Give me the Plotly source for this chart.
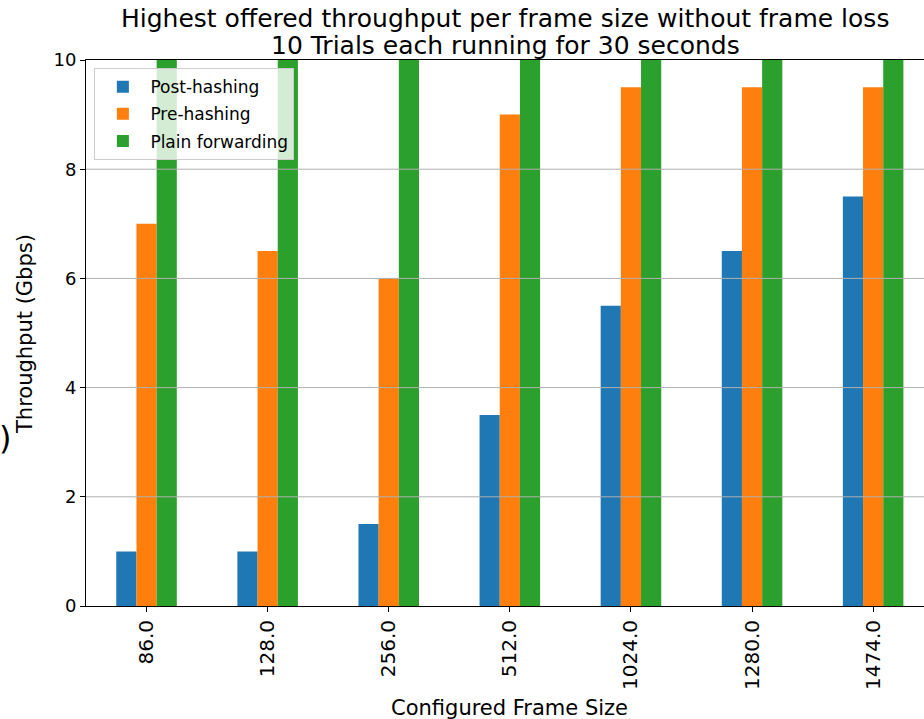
import plotly.graph_objects as go

# Frame sizes tested (bytes) and highest lossless throughput (Gbps)
frame_sizes = ["86.0", "128.0", "256.0", "512.0", "1024.0", "1280.0", "1474.0"]
post_hashing = [1.0, 1.0, 1.5, 3.5, 5.5, 6.5, 7.5]
pre_hashing = [7.0, 6.5, 6.0, 9.0, 9.5, 9.5, 9.5]
plain_forwarding = [10.0, 10.0, 10.0, 10.0, 10.0, 10.0, 10.0]

series = [
    ("Post-hashing", post_hashing, "#1f77b4"),
    ("Pre-hashing", pre_hashing, "#ff7f0e"),
    ("Plain forwarding", plain_forwarding, "#2ca02c"),
]

y_ticks = [0, 2, 4, 6, 8, 10]

title_lines = ["Highest offered throughput per frame size without frame loss",
               "10 Trials each running for 30 seconds"]

FONT = "DejaVu Sans"

fig = go.Figure()
for name, vals, color in series:
    fig.add_trace(go.Bar(
        x=frame_sizes, y=vals, name=name, legendgroup=name,
        marker=dict(color=color, line=dict(width=0)),
    ))

# grid drawn on top of the bars
grid = dict(color="#b0b0b0", width=1)
shapes = []
for cat in frame_sizes:
    shapes.append(dict(type="line", xref="x", yref="y", x0=cat, x1=cat,
                       y0=0, y1=10, line=grid, layer="above"))
for yv in y_ticks[1:-1]:
    shapes.append(dict(type="line", xref="paper", yref="y", x0=0, x1=1,
                       y0=yv, y1=yv, line=grid, layer="above"))

annotations = [
    dict(text=title_lines[0], xref="paper", yref="paper", x=0.5, y=1,
         xanchor="center", yanchor="middle", yshift=42, showarrow=False,
         font=dict(family=FONT, size=25, color="black")),
    dict(text=title_lines[1], xref="paper", yref="paper", x=0.5, y=1,
         xanchor="center", yanchor="middle", yshift=15, showarrow=False,
         font=dict(family=FONT, size=25, color="black")),
    dict(text="Configured Frame Size", xref="paper", yref="paper",
         x=0.5, y=0, xanchor="center", yanchor="middle",
         xshift=4, yshift=-102, showarrow=False,
         font=dict(family=FONT, size=21, color="black")),
    dict(text="Throughput (Gbps)", xref="paper", yref="paper",
         x=0, y=0.5, xanchor="center", yanchor="middle",
         xshift=-61, yshift=-1, textangle=-90, showarrow=False,
         font=dict(family=FONT, size=21, color="black")),
    dict(text=")", xref="paper", yref="paper",
         x=0, y=0.5, xanchor="left", yanchor="middle",
         xshift=-89, yshift=-105, showarrow=False,
         font=dict(family=FONT, size=32, color="black")),
]

fig.update_layout(
    width=924, height=719,
    margin=dict(l=86, r=0, t=60, b=113),
    paper_bgcolor="white", plot_bgcolor="white",
    font=dict(family=FONT, color="black", size=18),
    barmode="group", bargap=0.5, bargroupgap=0,
    showlegend=True,
    legend=dict(
        x=0.01, y=0.985, xanchor="left", yanchor="top",
        bgcolor="rgba(255,255,255,0.8)", bordercolor="#cccccc", borderwidth=1,
        font=dict(family=FONT, size=17, color="black"),
        tracegroupgap=2, itemwidth=45,
    ),
    shapes=shapes,
    annotations=annotations,
    xaxis=dict(
        type="category", range=[-0.5, 6.42],
        showgrid=False, showline=True, linecolor="black", linewidth=1,
        mirror=True, ticks="outside", ticklen=5, tickcolor="black",
        tickangle=-90, tickfont=dict(family=FONT, size=20, color="black"),
        zeroline=False,
    ),
    yaxis=dict(
        range=[0, 10], tickvals=y_ticks,
        showgrid=False, showline=True, linecolor="black", linewidth=1,
        ticks="outside", ticklen=5, tickcolor="black",
        tickfont=dict(family=FONT, size=18, color="black"),
        zeroline=False,
    ),
)

fig.write_html("out.html")
